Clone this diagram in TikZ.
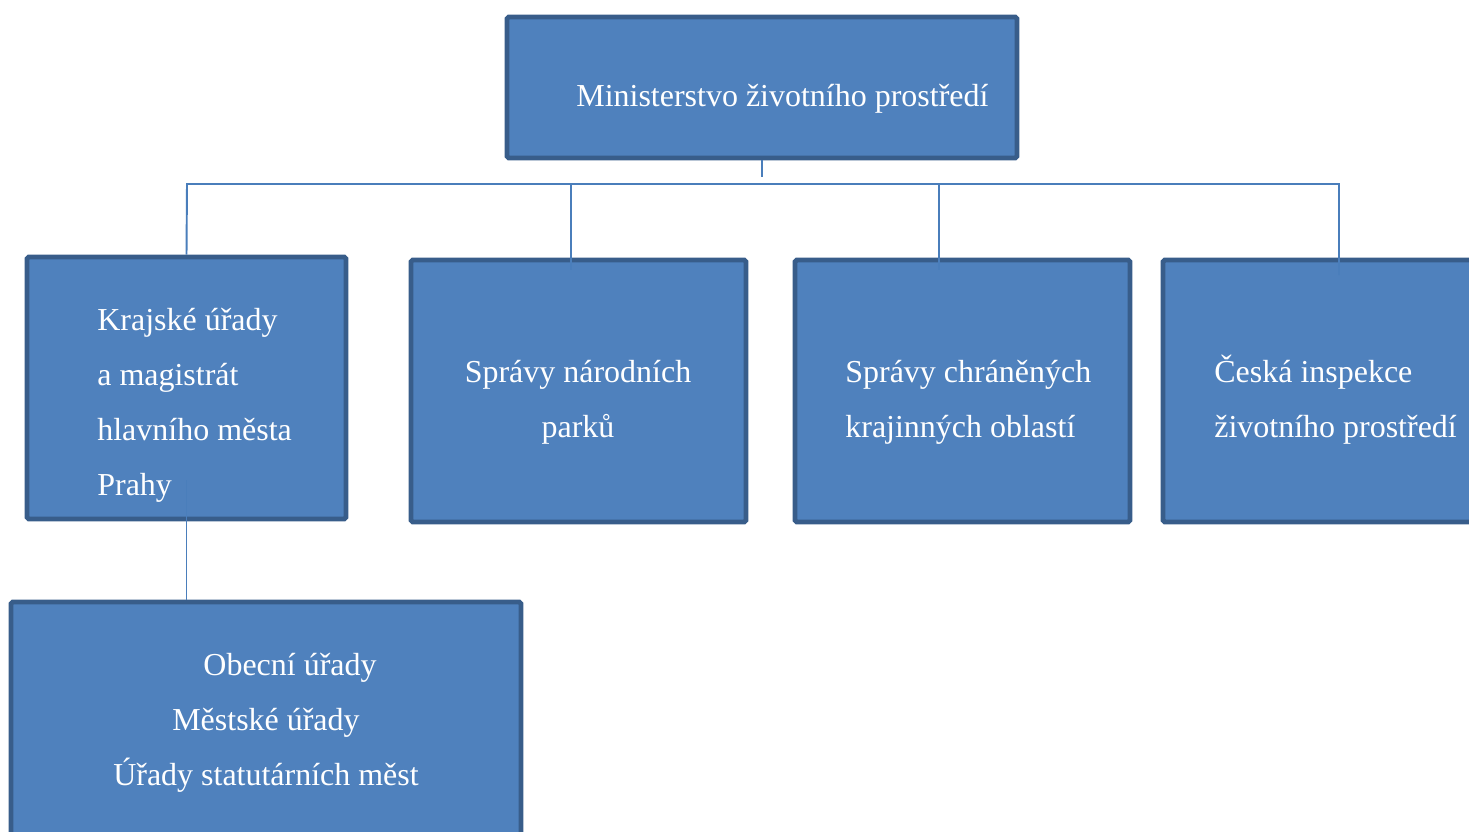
\documentclass[tikz,border=0pt]{standalone}
\usepackage{fontspec}
\setmainfont{Liberation Serif}
\usetikzlibrary{fit}

\definecolor{boxfill}{HTML}{4F81BD}
\definecolor{boxline}{HTML}{385D8A}
\definecolor{linkcol}{HTML}{4A7EBB}

\tikzset{
  orgbox/.style={draw=boxline,fill=boxfill,line width=2.8pt,inner sep=0pt,rounded corners=1pt},
  orgtext/.style={text=white,font=\fontsize{18.2}{31.3}\selectfont,inner sep=0pt,anchor=base west,align=left},
  link/.style={draw=linkcol,line width=1.1pt}
}

\begin{document}
\begin{tikzpicture}[x=0.02cm,y=-0.02cm]
\useasboundingbox (0,0) rectangle (1469,831);
\clip (0,0) rectangle (1469,831);

% boxes
\node[orgbox,fit={(507,17) (1017,158)}](mzp){};
\node[orgbox,fit={(27,257) (346,519)}](kraj){};
\node[orgbox,fit={(411,260) (746,522)}](narod){};
\node[orgbox,fit={(795,260) (1130,522)}](chran){};
\node[orgbox,fit={(1163,260) (1517,522)}](cesk){};
\node[orgbox,fit={(11,602) (521,860)}](obec){};

% connectors
\coordinate(hub) at ([yshift=-0.34cm]mzp.south);
\coordinate(bar-w) at (187,184);
\coordinate(bar-e) at (1339,184);
\coordinate(drop-narod) at (571,184);
\coordinate(drop-chran) at (939,184);

\draw[link](mzp.south)--(hub);
\draw[link](kraj.north)--(bar-w)--(bar-e)--++(0,91);
\draw[link](drop-narod)--++(0,86);
\draw[link](drop-chran)--++(0,86);
\draw[link]([yshift=0.82cm]kraj.south)--(kraj.south |- obec.north);

% texts (base = last line)
\node[orgtext](mzp-t) at (576,107){Ministerstvo životního prostředí};
\node[orgtext](kraj-t) at (97,495){Krajské úřady\\a magistrát\\hlavního města\\Prahy};
\node[orgtext,align=center,anchor=base](narod-t) at (578,437){Správy národních\\parků};
\node[orgtext](chran-t) at (845,437){Správy chráněných\\krajinných oblastí};
\node[orgtext](cesk-t) at (1214,437){Česká inspekce\\životního prostředí};
\node[orgtext,align=center,anchor=base](obec-t) at (266,785){\hspace*{0.96cm}Obecní úřady\\Městské úřady\\Úřady statutárních měst};

\end{tikzpicture}
\end{document}
